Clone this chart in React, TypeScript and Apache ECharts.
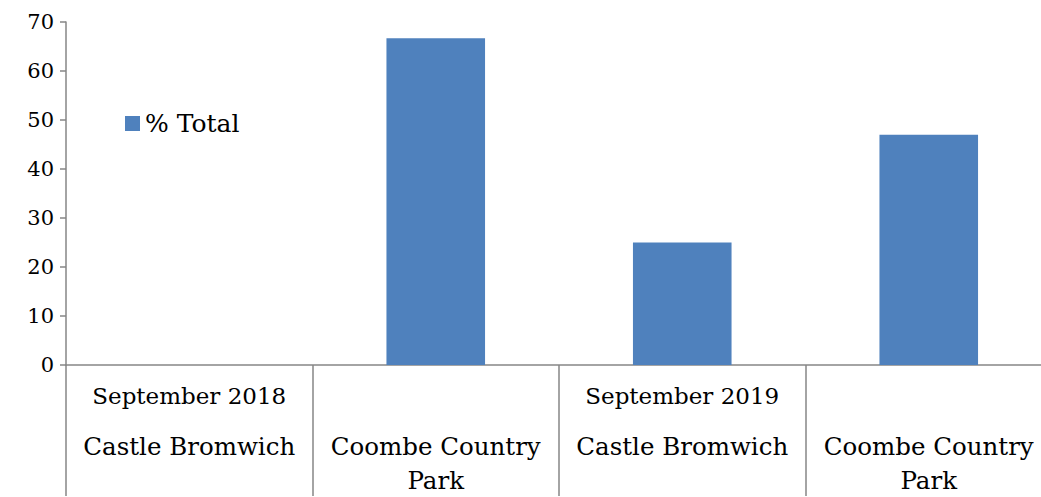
import React, { useEffect, useRef } from "react";
import * as echarts from "echarts";

const sites = ["Castle Bromwich", "Coombe Country\nPark", "Castle Bromwich", "Coombe Country\nPark"];
const periods = ["September 2018", "", "September 2019", ""];
const totals = [0, 66.7, 25, 47];
const yMin = 0;
const yMax = 70;
const yStep = 10;

const FONT = "DejaVu Serif";
const AXIS = "#868686";

export default function App() {
  const ref = useRef<HTMLDivElement>(null);
  useEffect(() => {
    if (!ref.current) return;
    const chart = echarts.init(ref.current, undefined, { renderer: "svg" });
    chart.setOption({
      animation: false,
      grid: { left: 66, top: 22, right: 0, bottom: 131, containLabel: false },
      legend: {
        left: 120,
        top: 106,
        itemWidth: 15,
        itemHeight: 15,
        itemGap: 4,
        icon: "rect",
        textStyle: { fontFamily: FONT, fontSize: 25, color: "#000" },
        data: ["% Total"],
      },
      xAxis: [
        {
          type: "category",
          data: sites,
          position: "bottom",
          axisLine: { lineStyle: { color: AXIS, width: 1.5 } },
          axisTick: { show: true, length: 131, interval: 0, alignWithLabel: false, lineStyle: { color: AXIS, width: 1.5 } },
          axisLabel: { interval: 0, margin: 64, fontFamily: FONT, fontSize: 24.5, color: "#000", lineHeight: 34 },
        },
        {
          type: "category",
          data: periods,
          position: "bottom",
          axisLine: { show: false },
          axisTick: { show: false },
          axisLabel: { interval: 0, margin: 14, fontFamily: FONT, fontSize: 23, color: "#000", lineHeight: 34 },
        },
      ],
      yAxis: {
        type: "value",
        min: yMin,
        max: yMax,
        interval: yStep,
        axisLine: { show: true, lineStyle: { color: AXIS, width: 1.5 } },
        axisTick: { show: true, length: 6, lineStyle: { color: AXIS, width: 1.5 } },
        splitLine: { show: false },
        axisLabel: { margin: 12, fontFamily: FONT, fontSize: 21, color: "#000" },
      },
      series: [
        {
          name: "% Total",
          type: "bar",
          xAxisIndex: 0,
          data: totals,
          barWidth: "40%",
          itemStyle: { color: "#4f81bd" },
        },
      ],
    });
    return () => chart.dispose();
  }, []);
  return (
    <div style={{ position: "absolute", left: 0, top: 0, width: 1041, height: 497, overflow: "hidden" }}>
      <div ref={ref} style={{ width: 1052, height: 497 }} />
    </div>
  );
}
